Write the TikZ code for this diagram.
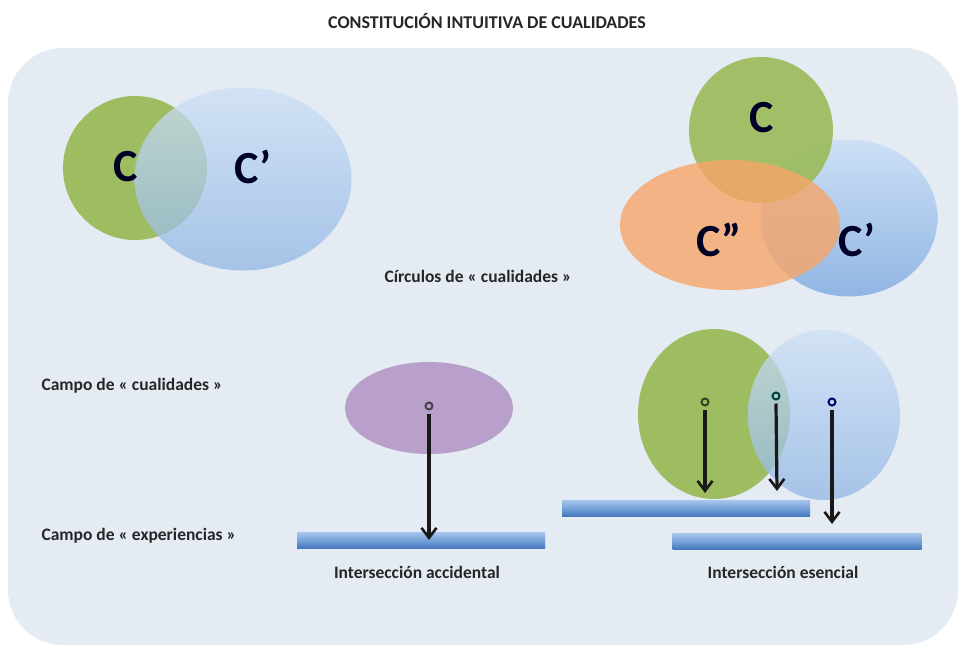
\documentclass[tikz,border=0pt]{standalone}
\usepackage{fontspec}
\setmainfont{Carlito}
\usetikzlibrary{shapes.geometric,arrows.meta}
\definecolor{bgc}{RGB}{228,235,243}
\definecolor{grn}{RGB}{155,187,89}
\definecolor{bluetop}{RGB}{205,224,246}
\definecolor{bluebot}{RGB}{145,182,228}
\definecolor{orng}{RGB}{247,165,105}
\definecolor{purp}{RGB}{184,160,202}
\definecolor{bartop}{RGB}{168,198,236}
\definecolor{barmid}{RGB}{120,163,218}
\definecolor{barbot}{RGB}{70,120,190}
\tikzset{
  blob/.style={ellipse, inner sep=0pt, draw=none},
  greenblob/.style={blob, fill=grn, fill opacity=0.95},
  blueblob/.style={blob, top color=bluetop, bottom color=bluebot, fill opacity=0.75},
  orangeblob/.style={blob, fill=orng, fill opacity=0.8},
  bar/.style={rectangle, inner sep=0pt, minimum height=16pt, top color=bartop, bottom color=barbot, middle color=barmid},
  bigC/.style={font=\fontsize{46}{48}\selectfont\bfseries, text=black!85!blue},
  lbl/.style={font=\fontsize{17.5}{19}\selectfont\bfseries, text=black!85},
  dot/.style={circle, inner sep=0pt, minimum size=7pt, line width=2pt, fill=none},
  arr/.style={-{Straight Barb[length=10pt,width=15pt,line width=2.6pt]}, line width=3.2pt, black!90}
}
\begin{document}
\begin{tikzpicture}[x=1pt,y=-1pt]
\useasboundingbox (0,0) rectangle (962,648);
\fill[white] (0,0) rectangle (962,648);
\fill[bgc,rounded corners=55pt] (8,48) rectangle (958,645);

\node[font=\fontsize{18}{20}\selectfont\bfseries, text=black!85] (title) at (487,21) {CONSTITUCIÓN INTUITIVA DE CUALIDADES};

% left Venn
\node[greenblob, minimum width=144pt, minimum height=144pt] (g1) at (135,168) {};
\node[blueblob, minimum width=217pt, minimum height=183pt] (b1) at (243,179) {};
\node[bigC] (c1) at (126,167) {C};
\node[bigC] (c1p) at (253,167) {C’};

% right Venn
\node[blueblob, fill opacity=1, minimum width=177pt, minimum height=157pt] (b2) at (849,218) {};
\node[greenblob, fill opacity=0.9, minimum width=144pt, minimum height=146pt] (g2) at (761,130) {};
\node[orangeblob, minimum width=220pt, minimum height=130pt] (o2) at (730,225) {};
\node[bigC] (c2) at (762,118) {C};
\node[bigC] (c2pp) at (719,240) {C”};
\node[bigC] (c2p) at (857,240) {C’};

\node[lbl] (circ) at (478,276) {Círculos de « cualidades »};

\node[lbl, anchor=west] (campoc) at (38,386) {Campo de « cualidades »};
\node[lbl, anchor=west] (campoe) at (38,536) {Campo de « experiencias »};

% accidental
\node[blob, fill=purp, minimum width=168pt, minimum height=92pt] (p) at (429,408) {};
\node[bar, minimum width=248pt] (bar1) at (421,540) {};
\node[dot, draw=purp!40!black] (d1) at (429,406) {};
\draw[arr] (d1.south) ++(0,3) -- (d1 |- bar1.center);
\node[lbl] (acc) at (417,572) {Intersección accidental};

% esencial
\node[greenblob, minimum width=152pt, minimum height=170pt] (g3) at (714,414) {};
\node[blueblob, minimum width=152pt, minimum height=170pt] (b3) at (824,415) {};
\node[bar, minimum width=248pt] (bar2) at (686,508) {};
\node[bar, minimum width=249pt] (bar3) at (797,541) {};
\node[dot, draw=grn!35!black] (d2) at (705,402) {};
\node[dot, draw=teal!50!black] (d3) at (776,396) {};
\node[dot, draw=blue!40!black] (d4) at (832,402) {};
\coordinate (e2) at (705,493);
\coordinate (e3) at (777,491);
\coordinate (e4) at (832,524);
\draw[arr] (d2.south) ++(0,3) -- (e2);
\draw[arr] (d3.south) ++(0,3) -- (e3);
\draw[arr] (d4.south) ++(0,3) -- (e4);
\node[lbl] (ess) at (783,572) {Intersección esencial};
\end{tikzpicture}
\end{document}
